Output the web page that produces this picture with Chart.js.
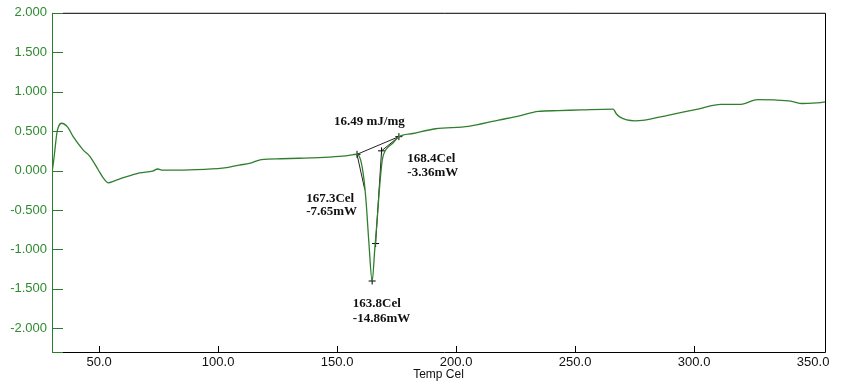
<!DOCTYPE html>
<html>
<head>
<meta charset="utf-8">
<title>DSC curve</title>
<script src="https://cdn.jsdelivr.net/npm/chart.js@4.4.1/dist/chart.umd.min.js"></script>
<style>
  html, body { margin: 0; padding: 0; background: #fff; }
  canvas { display: block; }
</style>
</head>
<body>
<canvas id="dsc" width="846" height="388"></canvas>
<script>
// Measured curve (temperature in Cel, heat flow)
const tempC = [30.2, 30.71, 31.41, 32.22, 32.83, 34.25, 36.78, 39.1, 43.35, 46.08, 49.62, 51.65, 53.77, 56.5, 59.94,
  67.02, 72.48, 74.61, 76.73, 87.96, 101.82, 108.9, 113.15, 118.11, 126.3, 134.09, 146.63, 153.61, 158.36, 159.88,
  161.29, 162.2, 163.32, 164.73, 165.84, 166.86, 167.87, 168.98, 170.4, 173.13, 175.96, 181.93, 191.34, 205.2,
  217.84, 226.14, 234.54, 242.93, 252.74, 265.99, 267.3, 268.72, 275.09, 279.24, 288.95, 301.6, 311.31, 319.7,
  326.68, 333.67, 340.65, 345.5, 353.19, 355.0]
const heatFlow = [-0.02, 0.08, 0.26, 0.47, 0.55, 0.60, 0.55, 0.43, 0.26, 0.18, 0.01, -0.09, -0.155, -0.13, -0.094,
  -0.03, -0.006, 0.02, 0.006, 0.01, 0.03, 0.07, 0.09, 0.14, 0.15, 0.156, 0.17, 0.185, 0.206, 0.135,
  -0.115, -0.405, -0.90, -1.40, -0.99, -0.61, -0.20, 0.135, 0.26, 0.34, 0.43, 0.47, 0.53, 0.56,
  0.64, 0.69, 0.75, 0.76, 0.77, 0.78, 0.72, 0.68, 0.63, 0.64, 0.70, 0.78, 0.84, 0.84,
  0.90, 0.895, 0.88, 0.85, 0.86, 0.87]

// Peak analysis lines
const baselineT = [158.36, 175.96]
const baselineV = [0.206, 0.43]
const leftTangentT = [158.36, 161.61]
const leftTangentV = [0.206, -0.24]
const rightTangentT = [166.17, 168.68, 175.96]
const rightTangentV = [-0.925, 0.25, 0.43]
const markerT = [158.36, 175.96, 168.68, 166.17, 164.73]
const markerV = [0.206, 0.43, 0.25, -0.925, -1.40]

// Annotation texts and where they sit (data coords, left edge / middle)
const labelTexts = ['16.49 mJ/mg', '168.4Cel', '-3.36mW', '167.3Cel', '-7.65mW', '163.8Cel', '-14.86mW']
const labelT = [148.7, 179.5, 179.5, 137.0, 137.0, 156.6, 156.6]
const labelV = [0.617, 0.156, -0.031, -0.36, -0.525, -1.69, -1.877]

// Axis ticks (no tick mark is drawn at 350, only its label)
const xTicks = [50, 100, 150, 200, 250, 300, 350]
const xTickMarks = [50, 100, 150, 200, 250, 300]
const yTicks = [2, 1.5, 1, 0.5, 0, -0.5, -1, -1.5, -2]

const curveGreen = '#2f7f2f'
const axisGreen = '#2a7d2a'
const labelGreen = '#2e8b2e'

const toPoints = (xs, ys) => xs.map((x, i) => ({ x: x, y: ys[i] }))

// Function to draw frame, inward ticks and annotation texts
const framePlugin = {
  id: 'frame',
  afterDraw(chart) {
    const { ctx, chartArea: a, scales: { x, y } } = chart
    const tickLen = 11
    ctx.save()
    ctx.lineWidth = 1

    // black frame top / right / bottom
    ctx.strokeStyle = '#000'
    ctx.beginPath()
    ctx.moveTo(a.left + tickLen, a.top + 0.5)
    ctx.lineTo(a.right + 0.5, a.top + 0.5)
    ctx.lineTo(a.right + 0.5, a.bottom + 0.5)
    ctx.lineTo(a.left + tickLen, a.bottom + 0.5)
    ctx.stroke()

    // x ticks point up into the plot
    ctx.beginPath()
    xTickMarks.forEach(v => {
      const px = Math.round(x.getPixelForValue(v)) + 0.5
      ctx.moveTo(px, a.bottom)
      ctx.lineTo(px, a.bottom - 6)
    })
    ctx.stroke()

    // green left axis with ticks
    ctx.strokeStyle = axisGreen
    ctx.beginPath()
    ctx.moveTo(a.left + 0.5, a.top)
    ctx.lineTo(a.left + 0.5, a.bottom + 1)
    yTicks.forEach(v => {
      const py = Math.round(y.getPixelForValue(v)) + 0.5
      ctx.moveTo(a.left, py)
      ctx.lineTo(a.left + tickLen, py)
    })
    ctx.moveTo(a.left, a.bottom + 0.5)
    ctx.lineTo(a.left + tickLen, a.bottom + 0.5)
    ctx.stroke()

    // annotation texts
    ctx.fillStyle = '#111'
    ctx.font = 'bold 13px "Liberation Serif", "DejaVu Serif", serif'
    ctx.textAlign = 'left'
    ctx.textBaseline = 'middle'
    labelTexts.forEach((t, i) => {
      ctx.fillText(t, x.getPixelForValue(labelT[i]), y.getPixelForValue(labelV[i]))
    })
    ctx.restore()
  }
}

const lineDataset = (data) => ({
  data: data,
  showLine: true,
  borderColor: '#222',
  borderWidth: 1,
  pointRadius: 0,
  fill: false,
})

new Chart(document.getElementById('dsc'), {
  type: 'scatter',
  data: {
    datasets: [
      {
        data: toPoints(tempC, heatFlow),
        showLine: true,
        borderColor: curveGreen,
        borderWidth: 1.3,
        pointRadius: 0,
        cubicInterpolationMode: 'monotone',
        fill: false,
      },
      lineDataset(toPoints(baselineT, baselineV)),
      lineDataset(toPoints(leftTangentT, leftTangentV)),
      lineDataset(toPoints(rightTangentT, rightTangentV)),
      {
        data: toPoints(markerT, markerV),
        showLine: false,
        pointStyle: 'cross',
        pointRadius: 3.5,
        borderColor: '#000',
        borderWidth: 1,
      },
    ],
  },
  options: {
    responsive: false,
    animation: false,
    events: [],
    layout: { padding: { top: 7, right: 21, left: 0, bottom: 0 } },
    plugins: { legend: { display: false }, tooltip: { enabled: false } },
    scales: {
      x: {
        type: 'linear',
        min: 30.2,
        max: 355,
        grid: { display: false, drawTicks: false },
        border: { display: false },
        afterBuildTicks: (scale) => { scale.ticks = xTicks.map(v => ({ value: v })) },
        afterFit: (scale) => { scale.height = 36 },
        ticks: {
          color: '#111',
          padding: 3,
          maxRotation: 0,
          font: { family: '"Liberation Sans", Arial, sans-serif', size: 13 },
          callback: (v) => v.toFixed(1),
        },
        title: {
          display: true,
          text: 'Temp Cel',
          color: '#111',
          padding: { top: 0, bottom: 6 },
          font: { family: '"Liberation Sans", Arial, sans-serif', size: 12 },
        },
      },
      y: {
        type: 'linear',
        min: -2.3,
        max: 2.0,
        grid: { display: false, drawTicks: false },
        border: { display: false },
        afterBuildTicks: (scale) => { scale.ticks = yTicks.map(v => ({ value: v })) },
        afterFit: (scale) => { scale.width = 52 },
        ticks: {
          color: labelGreen,
          padding: 5,
          font: { family: '"Liberation Sans", Arial, sans-serif', size: 13 },
          callback: (v) => v.toFixed(3),
        },
      },
    },
  },
  plugins: [framePlugin],
})
</script>
</body>
</html>
